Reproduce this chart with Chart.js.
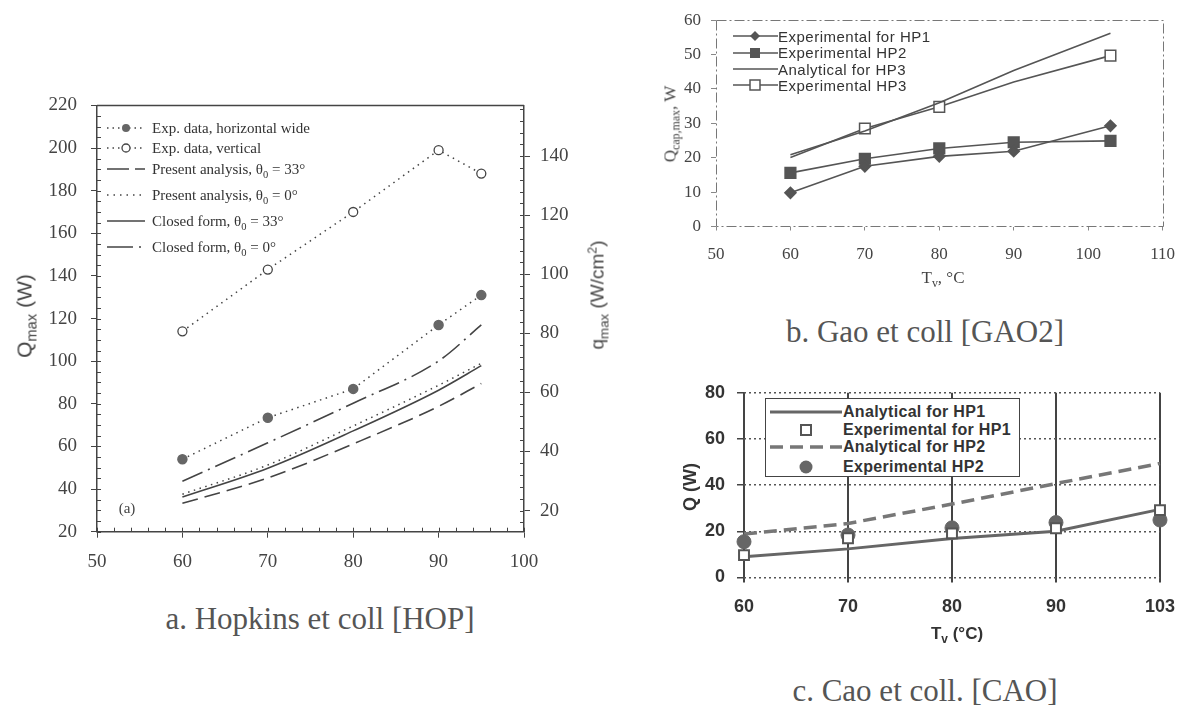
<!DOCTYPE html>
<html><head><meta charset="utf-8">
<script src="https://cdn.jsdelivr.net/npm/chart.js@4.4.0/dist/chart.umd.min.js"></script>
<style>
body{margin:0;background:#fff;}
#page{position:relative;width:1189px;height:706px;overflow:hidden;background:#fff;}
canvas{position:absolute;}
.t{position:absolute;white-space:nowrap;line-height:1;}
.rot{transform:translate(-50%,-50%) rotate(-90deg);}
.ctr{transform:translate(-50%,-50%);}
.serif{font-family:"Liberation Serif","Times New Roman",serif;}
.sans{font-family:"Liberation Sans",Arial,sans-serif;}
.lg{position:absolute;display:flex;align-items:center;white-space:nowrap;height:20px;}
.lg svg{flex:none;}
sub{font-size:70%;vertical-align:-0.35em;line-height:0;}
sup{font-size:65%;vertical-align:0.55em;line-height:0;}
.cap{font-family:"Liberation Serif","Times New Roman",serif;font-size:31px;color:#555;}
</style></head>
<body><div id="page">
<canvas id="ca" width="600" height="510" style="left:0;top:80px"></canvas>
<canvas id="cb" width="589" height="300" style="left:600px;top:0"></canvas>
<canvas id="cc" width="569" height="280" style="left:620px;top:370px"></canvas>

<!-- chart a texts -->
<div class="t rot sans" style="left:24px;top:316px;font-size:21px;color:#444">Q<sub>max</sub> (W)</div>
<div class="t rot sans" style="left:597px;top:295px;font-size:19px;color:#444">q<sub>max</sub> (W/cm<sup>2</sup>)</div>
<div class="t ctr serif" style="left:127px;top:508px;font-size:15px;color:#444">(a)</div>
<div class="lg serif" style="left:107px;top:118px;font-size:15px;color:#333">
 <svg width="40" height="12"><line x1="0" y1="6" x2="38" y2="6" stroke="#444" stroke-width="1.5" stroke-dasharray="1.5 4"/><circle cx="19" cy="6" r="4" fill="#666"/></svg><span style="margin-left:5px">Exp. data, horizontal wide</span></div>
<div class="lg serif" style="left:107px;top:138px;font-size:15px;color:#333">
 <svg width="40" height="12"><line x1="0" y1="6" x2="38" y2="6" stroke="#444" stroke-width="1.5" stroke-dasharray="1.5 4"/><circle cx="19" cy="6" r="4" fill="#fff" stroke="#444" stroke-width="1.3"/></svg><span style="margin-left:5px">Exp. data, vertical</span></div>
<div class="lg serif" style="left:107px;top:159px;font-size:15px;color:#333">
 <svg width="40" height="12"><line x1="0" y1="6" x2="38" y2="6" stroke="#444" stroke-width="1.6" stroke-dasharray="22 6"/></svg><span style="margin-left:5px">Present analysis, θ<sub>0</sub> = 33°</span></div>
<div class="lg serif" style="left:107px;top:185px;font-size:15px;color:#333">
 <svg width="40" height="12"><line x1="0" y1="6" x2="38" y2="6" stroke="#444" stroke-width="1.5" stroke-dasharray="1.5 5"/></svg><span style="margin-left:5px">Present analysis, θ<sub>0</sub> = 0°</span></div>
<div class="lg serif" style="left:107px;top:211px;font-size:15px;color:#333">
 <svg width="40" height="12"><line x1="0" y1="6" x2="38" y2="6" stroke="#444" stroke-width="1.6"/></svg><span style="margin-left:5px">Closed form, θ<sub>0</sub> = 33°</span></div>
<div class="lg serif" style="left:107px;top:237px;font-size:15px;color:#333">
 <svg width="40" height="12"><line x1="0" y1="6" x2="38" y2="6" stroke="#444" stroke-width="1.6" stroke-dasharray="26 6 2 8"/></svg><span style="margin-left:5px">Closed form, θ<sub>0</sub> = 0°</span></div>
<div class="t ctr cap" style="left:320px;top:618px">a. Hopkins et coll [HOP]</div>

<!-- chart b texts -->
<div class="t rot serif" style="left:670px;top:124px;font-size:17px;color:#444">Q<sub>cap,max</sub>, W</div>
<div class="t ctr serif" style="left:943px;top:277px;font-size:17px;color:#444">T<sub>v</sub>, °C</div>
<div class="lg sans" style="left:733px;top:26px;font-size:15px;letter-spacing:0.5px;color:#333">
 <svg width="45" height="14"><line x1="0" y1="7" x2="45" y2="7" stroke="#555" stroke-width="1.6"/><polygon points="22,2 27,7 22,12 17,7" fill="#555"/></svg><span>Experimental for HP1</span></div>
<div class="lg sans" style="left:733px;top:42.7px;font-size:15px;letter-spacing:0.5px;color:#333">
 <svg width="45" height="14"><line x1="0" y1="7" x2="45" y2="7" stroke="#555" stroke-width="1.6"/><rect x="17" y="2" width="10" height="10" fill="#555"/></svg><span>Experimental HP2</span></div>
<div class="lg sans" style="left:733px;top:59px;font-size:15px;letter-spacing:0.5px;color:#333">
 <svg width="45" height="14"><line x1="0" y1="7" x2="45" y2="7" stroke="#555" stroke-width="1.6"/></svg><span>Analytical for HP3</span></div>
<div class="lg sans" style="left:733px;top:75px;font-size:15px;letter-spacing:0.5px;color:#333">
 <svg width="45" height="14"><line x1="0" y1="7" x2="45" y2="7" stroke="#555" stroke-width="1.6"/><rect x="17" y="2" width="10" height="10" fill="#fff" stroke="#555" stroke-width="1.5"/></svg><span>Experimental HP3</span></div>
<div class="t ctr cap" style="left:925px;top:331px">b. Gao et coll [GAO2]</div>

<!-- chart c texts -->
<div class="t rot sans" style="left:690px;top:487px;font-size:18px;font-weight:bold;color:#333">Q (W)</div>
<div class="t ctr sans" style="left:957px;top:633px;font-size:17px;font-weight:bold;color:#333">T<sub>v</sub> (°C)</div>
<div style="position:absolute;left:765px;top:398px;width:253px;height:77px;border:1.5px solid #444;background:#fff"></div>
<div class="lg sans" style="left:770px;top:401.7px;font-size:16px;font-weight:bold;letter-spacing:0.3px;color:#333">
 <svg width="72" height="14"><line x1="0" y1="7" x2="72" y2="7" stroke="#666" stroke-width="3"/></svg><span style="margin-left:1px">Analytical for HP1</span></div>
<div class="lg sans" style="left:770px;top:420px;font-size:16px;font-weight:bold;letter-spacing:0.3px;color:#333">
 <svg width="72" height="14"><rect x="31" y="2" width="10" height="10" fill="#fff" stroke="#555" stroke-width="2"/></svg><span style="margin-left:1px">Experimental for HP1</span></div>
<div class="lg sans" style="left:770px;top:436.7px;font-size:16px;font-weight:bold;letter-spacing:0.3px;color:#333">
 <svg width="72" height="14"><line x1="0" y1="7" x2="72" y2="7" stroke="#777" stroke-width="3.5" stroke-dasharray="13 7"/></svg><span style="margin-left:1px">Analytical for HP2</span></div>
<div class="lg sans" style="left:770px;top:457.3px;font-size:16px;font-weight:bold;letter-spacing:0.3px;color:#333">
 <svg width="72" height="16"><circle cx="36" cy="8" r="6.5" fill="#666"/></svg><span style="margin-left:1px">Experimental HP2</span></div>
<div class="t ctr cap" style="left:925px;top:690px">c. Cao et coll. [CAO]</div>
</div>

<script>
// ---------- Chart a : Hopkins et coll [HOP] ----------
const T_A = [60, 70, 80, 90, 95];
const A_EXP_HORIZONTAL = [54, 73.5, 87, 117, 131];
const A_EXP_VERTICAL = [114, 143, 170, 199, 188];
const A_PRESENT_33 = [33.3, 45.2, 61.2, 78.8, 89.5];
const A_PRESENT_0 = [37.6, 51.3, 69.6, 88.7, 99];
const A_CLOSED_33 = [36.3, 49.8, 67.3, 86.4, 97.9];
const A_CLOSED_0 = [43.7, 61.7, 80.3, 100.1, 117];
const A_X_TICKS = [50, 60, 70, 80, 90, 100];
const A_Y_TICKS = [20, 40, 60, 80, 100, 120, 140, 160, 180, 200, 220];
const A_Q_TICKS = [20, 40, 60, 80, 100, 120, 140];

// ---------- Chart b : Gao et coll [GAO2] ----------
const T_B = [60, 70, 80, 90, 103];
const B_EXP_HP1 = [9.8, 17.5, 20.4, 21.9, 29.3];
const B_EXP_HP2 = [15.6, 19.7, 22.7, 24.5, 24.9];
const B_ANA_HP3 = [20.9, 27.8, 36, 45.4, 56.2];
const B_EXP_HP3 = [20.1, 28.5, 34.8, 42, 49.7];
const B_X_TICKS = [50, 60, 70, 80, 90, 100, 110];
const B_Y_TICKS = [0, 10, 20, 30, 40, 50, 60];

// ---------- Chart c : Cao et coll. [CAO] ----------
const C_CATEGORIES = ['60', '70', '80', '90', '103'];
const C_ANA_HP1 = [9, 12.4, 16.9, 20, 29.5];
const C_EXP_HP1 = [9.7, 17, 19.1, 21.3, 29.2];
const C_ANA_HP2 = [18.8, 23.4, 31.8, 40.7, 49.4];
const C_EXP_HP2 = [15.5, 18.4, 21.5, 23.8, 24.9];
const C_Y_TICKS = [0, 20, 40, 60, 80];

const xy = (xs, ys) => xs.map((x, i) => ({x, y: ys[i]}));
const fixTicks = arr => s => { s.ticks = arr.map(v => ({value: v})); };
const base = {responsive: false, animation: false, devicePixelRatio: 1,
  plugins: {legend: {display: false}, tooltip: {enabled: false}}};

const frameA = {
  id: 'frameA',
  afterDraw(chart) {
    const {ctx, chartArea: a, scales} = chart;
    ctx.save();
    ctx.strokeStyle = '#444'; ctx.lineWidth = 1.5;
    ctx.beginPath(); ctx.moveTo(a.left, a.top); ctx.lineTo(a.right, a.top); ctx.stroke();
    ctx.lineWidth = 1;
    ctx.beginPath();
    for (let v = 20; v <= 220; v += 5) { const y = Math.round(scales.y.getPixelForValue(v)) + 0.5; ctx.moveTo(a.left, y); ctx.lineTo(a.left + 4, y); }
    for (let v = 50; v <= 100; v += 2) { const x = Math.round(scales.x.getPixelForValue(v)) + 0.5; ctx.moveTo(x, a.bottom); ctx.lineTo(x, a.bottom - 4); }
    for (let v = 16; v <= 156; v += 4) { const y = Math.round(scales.q.getPixelForValue(v)) + 0.5; ctx.moveTo(a.right, y); ctx.lineTo(a.right - 4, y); }
    ctx.stroke(); ctx.restore();
  }
};

const serifA = {family: 'Liberation Serif', size: 19};
new Chart(document.getElementById('ca'), {
  type: 'line',
  data: {datasets: [
    {data: xy(T_A, A_EXP_HORIZONTAL), borderColor: '#444', borderWidth: 1.5, borderDash: [1.5, 4.5],
     pointRadius: 4.5, pointBackgroundColor: '#666', pointBorderColor: '#666', yAxisID: 'y'},
    {data: xy(T_A, A_EXP_VERTICAL), borderColor: '#444', borderWidth: 1.5, borderDash: [1.5, 4.5],
     pointRadius: 4.5, pointBackgroundColor: '#fff', pointBorderColor: '#444', pointBorderWidth: 1.3, yAxisID: 'y'},
    {data: xy(T_A, A_PRESENT_33), borderColor: '#444', borderWidth: 1.6, borderDash: [16, 7],
     pointRadius: 0, tension: 0.35, cubicInterpolationMode: 'monotone', yAxisID: 'y'},
    {data: xy(T_A, A_PRESENT_0), borderColor: '#444', borderWidth: 1.5, borderDash: [1.5, 4.5],
     pointRadius: 0, cubicInterpolationMode: 'monotone', yAxisID: 'y'},
    {data: xy(T_A, A_CLOSED_33), borderColor: '#444', borderWidth: 1.6,
     pointRadius: 0, cubicInterpolationMode: 'monotone', yAxisID: 'y'},
    {data: xy(T_A, A_CLOSED_0), borderColor: '#444', borderWidth: 1.6, borderDash: [22, 6, 2, 6],
     pointRadius: 0, cubicInterpolationMode: 'monotone', yAxisID: 'y'}
  ]},
  options: {...base,
    layout: {padding: {top: 15, left: 0, right: 0, bottom: 0}},
    scales: {
      x: {type: 'linear', min: 50, max: 100, afterBuildTicks: fixTicks(A_X_TICKS), afterFit: s => { s.height = 58.3; },
          grid: {drawOnChartArea: false, tickLength: 6, color: '#444'}, border: {color: '#444', width: 1.5},
          ticks: {padding: 13, color: '#444', font: serifA}},
      y: {type: 'linear', position: 'left', min: 20, max: 220, afterBuildTicks: fixTicks(A_Y_TICKS), afterFit: s => { s.width = 97; },
          grid: {drawOnChartArea: false, tickLength: 6, color: '#444'}, border: {color: '#444', width: 1.5},
          ticks: {padding: 14, color: '#444', font: serifA}},
      q: {type: 'linear', position: 'right', display: true, min: 12.83, max: 157.2, afterBuildTicks: fixTicks(A_Q_TICKS), afterFit: s => { s.width = 76; },
          grid: {drawOnChartArea: false, tickLength: 6, color: '#444'}, border: {color: '#444', width: 1.5},
          ticks: {padding: 10, color: '#444', font: serifA}}
    }
  },
  plugins: [frameA]
});

// chart b
const frameB = {
  id: 'frameB',
  afterDraw(chart) {
    const {ctx, chartArea: a} = chart;
    ctx.save();
    ctx.strokeStyle = '#777'; ctx.lineWidth = 1;
    ctx.setLineDash([10, 3, 2, 3]);
    ctx.strokeRect(Math.round(a.left) + 0.5, Math.round(a.top) + 0.5, Math.round(a.right - a.left), Math.round(a.bottom - a.top));
    ctx.restore();
  }
};
const serifB = {family: 'Liberation Serif', size: 17};
new Chart(document.getElementById('cb'), {
  type: 'line',
  data: {datasets: [
    {data: xy(T_B, B_EXP_HP1), borderColor: '#555', borderWidth: 1.6, pointStyle: 'rectRot', pointRadius: 5.5,
     pointBackgroundColor: '#555', pointBorderColor: '#555', clip: false},
    {data: xy(T_B, B_EXP_HP2), borderColor: '#555', borderWidth: 1.6, pointStyle: 'rect', pointRadius: 7.5,
     pointBackgroundColor: '#555', pointBorderColor: '#555', clip: false},
    {data: xy(T_B, B_ANA_HP3), borderColor: '#555', borderWidth: 1.6, pointRadius: 0},
    {data: xy(T_B, B_EXP_HP3), borderColor: '#555', borderWidth: 1.6, pointStyle: 'rect', pointRadius: [0, 7.5, 7.5, 0, 7.5],
     pointBackgroundColor: '#fff', pointBorderColor: '#555', pointBorderWidth: 1.5, clip: false}
  ]},
  options: {...base,
    layout: {padding: {top: 18.5, left: 0, right: 26, bottom: 0}},
    scales: {
      x: {type: 'linear', min: 50, max: 110, afterBuildTicks: fixTicks(B_X_TICKS), afterFit: s => { s.height = 73.5; },
          grid: {drawOnChartArea: false, tickLength: 4, color: '#888'}, border: {display: false},
          ticks: {padding: 14, color: '#444', font: serifB}},
      y: {type: 'linear', min: 0, max: 60, afterBuildTicks: fixTicks(B_Y_TICKS), afterFit: s => { s.width = 116; },
          grid: {drawOnChartArea: false, tickLength: 5, color: '#888'}, border: {display: false},
          ticks: {padding: 10, color: '#444', font: serifB}}
    }
  },
  plugins: [frameB]
});

// chart c
const boldC = {family: 'Liberation Sans', size: 18, weight: 'bold'};
new Chart(document.getElementById('cc'), {
  type: 'line',
  data: {labels: C_CATEGORIES, datasets: [
    {data: C_EXP_HP1, showLine: false, pointStyle: 'rect', pointRadius: 7, pointBackgroundColor: '#fff',
     pointBorderColor: '#555', pointBorderWidth: 2, order: 0, clip: false},
    {data: C_EXP_HP2, showLine: false, pointRadius: 7, pointBackgroundColor: '#666', pointBorderColor: '#666', order: 1, clip: false},
    {data: C_ANA_HP1, borderColor: '#666', borderWidth: 3, pointRadius: 0, order: 2},
    {data: C_ANA_HP2, borderColor: '#777', borderWidth: 3.5, borderDash: [13, 7], pointRadius: 0, order: 3}
  ]},
  options: {...base,
    layout: {padding: {top: 22.5, left: 0, right: 23, bottom: 0}},
    scales: {
      x: {type: 'category', offset: false, afterFit: s => { s.height = 72.5; },
          grid: {color: '#444', lineWidth: 2, tickLength: 5}, border: {display: false},
          ticks: {padding: 14, color: '#333', font: boldC}},
      y: {type: 'linear', min: 0, max: 80, afterBuildTicks: fixTicks(C_Y_TICKS), afterFit: s => { s.width = 124; },
          grid: {color: '#555', lineWidth: 1.5, tickLength: 7, tickColor: '#444', tickWidth: 1.5},
          border: {display: false, dash: [2, 3]},
          ticks: {padding: 12, color: '#333', font: boldC}}
    }
  }
});
</script>
</body></html>
